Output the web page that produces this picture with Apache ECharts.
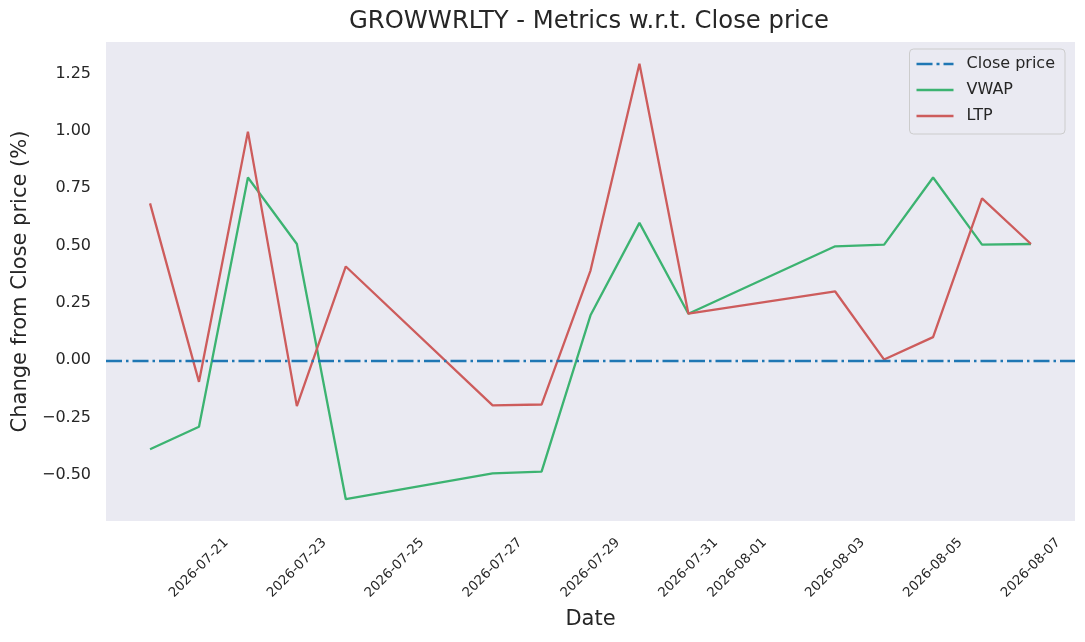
<!DOCTYPE html>
<html>
<head>
<meta charset="utf-8">
<title>GROWWRLTY - Metrics w.r.t. Close price</title>
<script src="https://cdn.jsdelivr.net/npm/echarts@6/dist/echarts.min.js"></script>
<style>
  html, body { margin: 0; padding: 0; background: #ffffff; }
  #main { width: 1085px; height: 642px; }
</style>
</head>
<body>
<div id="main"></div>
<script>
// trading days
var dates = ['2026-07-20', '2026-07-21', '2026-07-22', '2026-07-23', '2026-07-24',
             '2026-07-27', '2026-07-28', '2026-07-29', '2026-07-30', '2026-07-31',
             '2026-08-03', '2026-08-04', '2026-08-05', '2026-08-06', '2026-08-07'];
// % change from close price
var vwap = [-0.388, -0.290, 0.797, 0.507, -0.606,
            -0.493, -0.486, 0.196, 0.599, 0.203,
            0.497, 0.504, 0.797, 0.504, 0.507];
var ltp = [0.684, -0.094, 0.997, -0.200, 0.409,
           -0.197, -0.193, 0.391, 1.293, 0.203,
           0.300, 0.003, 0.101, 0.706, 0.507];
var xTicks = ['2026-07-21', '2026-07-23', '2026-07-25', '2026-07-27', '2026-07-29',
              '2026-07-31', '2026-08-01', '2026-08-03', '2026-08-05', '2026-08-07'];
var yTicks = [-0.5, -0.25, 0, 0.25, 0.5, 0.75, 1.0, 1.25];

var font = 'DejaVu Sans';
var ink = '#262626';

function toTime(d) { return Date.parse(d); }
function pairs(vals) {
    return dates.map(function (d, i) { return [toTime(d), vals[i]]; });
}
// matplotlib style 5% margins
function padMin(v) { return v.min - (v.max - v.min) * 0.05; }
function padMax(v) { return v.max + (v.max - v.min) * 0.05; }

var option = {
    animation: false,
    backgroundColor: '#ffffff',
    textStyle: { fontFamily: font, color: ink },
    title: {
        text: 'GROWWRLTY - Metrics w.r.t. Close price',
        left: 349,
        top: 10,
        padding: 0,
        textStyle: { fontFamily: font, fontSize: 24.3, fontWeight: 'normal', color: ink }
    },
    grid: {
        left: 106,
        right: 10,
        top: 42,
        bottom: 121,
        outerBoundsMode: 'none',
        containLabel: false,
        show: true,
        backgroundColor: '#eaeaf2',
        borderWidth: 0
    },
    legend: {
        orient: 'vertical',
        right: 20,
        top: 49,
        padding: [7, 10, 10, 7],
        itemGap: 10,
        itemWidth: 37,
        itemHeight: 2.4,
        selectedMode: false,
        backgroundColor: '#eaeaf2',
        borderColor: '#cccccc',
        borderWidth: 1,
        borderRadius: 4,
        textStyle: { fontFamily: font, fontSize: 16, color: ink, padding: [0, 0, 0, 8] },
        data: [
            { name: 'Close price', icon: 'path://M0,0H16V2.4H0Z M20,0H23V2.4H20Z M27,0H37V2.4H27Z' },
            { name: 'VWAP', icon: 'path://M0,0H37V2.4H0Z' },
            { name: 'LTP', icon: 'path://M0,0H37V2.4H0Z' }
        ]
    },
    xAxis: {
        type: 'value',
        min: padMin,
        max: padMax,
        name: 'Date',
        nameLocation: 'middle',
        nameGap: 88,
        nameTextStyle: { fontFamily: font, fontSize: 21, color: ink },
        axisLine: { show: false },
        axisTick: { show: false },
        splitLine: { show: false },
        axisLabel: {
            customValues: xTicks.map(toTime),
            rotate: 45,
            align: 'center',
            verticalAlign: 'middle',
            margin: 47,
            fontFamily: font,
            fontSize: 13.3,
            color: ink,
            formatter: function (v) { return new Date(v).toISOString().slice(0, 10); }
        }
    },
    yAxis: {
        type: 'value',
        min: padMin,
        max: padMax,
        name: 'Change from Close price (%)',
        nameLocation: 'middle',
        nameGap: 70,
        nameTextStyle: { fontFamily: font, fontSize: 21, color: ink },
        axisLine: { show: false },
        axisTick: { show: false },
        splitLine: { show: false },
        axisLabel: {
            customValues: yTicks,
            margin: 15,
            fontFamily: font,
            fontSize: 16,
            color: ink,
            formatter: function (v) { return v.toFixed(2).replace('-', '\u2212'); }
        }
    },
    series: [
        {
            name: 'Close price',
            type: 'line',
            color: '#1f77b4',
            data: [],
            markLine: {
                silent: true,
                symbol: ['none', 'none'],
                label: { show: false },
                lineStyle: { color: '#1f77b4', width: 2.4, type: [16, 4, 2.5, 4] },
                data: [{ yAxis: 0 }]
            }
        },
        {
            name: 'VWAP',
            type: 'line',
            color: '#3cb371',
            showSymbol: false,
            symbol: 'none',
            lineStyle: { width: 2.3, color: '#3cb371' },
            data: pairs(vwap)
        },
        {
            name: 'LTP',
            type: 'line',
            color: '#cd5c5c',
            showSymbol: false,
            symbol: 'none',
            lineStyle: { width: 2.3, color: '#cd5c5c' },
            data: pairs(ltp)
        }
    ]
};

var myChart = echarts.init(document.getElementById('main'));
myChart.setOption(option);
</script>
</body>
</html>
